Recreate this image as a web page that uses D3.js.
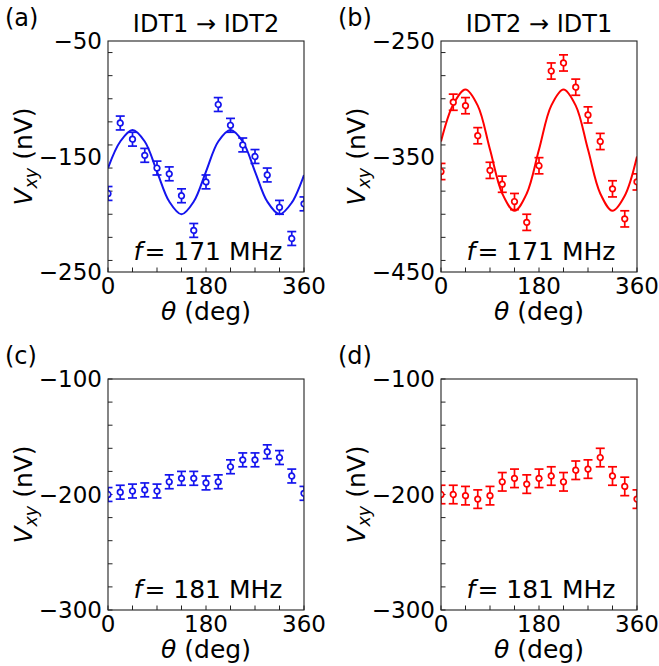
<!DOCTYPE html>
<html>
<head>
<meta charset="utf-8">
<script src="https://cdn.jsdelivr.net/npm/d3@7"></script>
<style>
  body { margin: 0; background: #fff; }
  svg { display: block; }
  text { font-family: "DejaVu Sans", sans-serif; fill: #000; }
</style>
</head>
<body>
<svg id="fig" width="659" height="666"></svg>
<script>
// Rotation angle of the sample (deg)
const theta = [0, 22.5, 45, 67.5, 90, 112.5, 135, 157.5, 180, 202.5, 225, 247.5, 270, 292.5, 315, 337.5, 360];

// (a) IDT1 -> IDT2, f = 171 MHz
const vxyA = [-182, -121, -135, -149, -160, -165, -184, -214, -172, -105, -123, -140, -150, -166, -194, -221, -191];
const errA = [6, 6, 6, 6, 6, 6, 6, 6, 6, 6, 6, 6, 6, 6, 6, 6, 6];
const fitA = [-160, -137, -127, -137, -163, -189, -200, -189, -163, -137, -127, -137, -163, -189, -200, -190, -166];

// (b) IDT2 -> IDT1, f = 171 MHz
const vxyB = [-363, -303, -306, -332, -362, -374, -389, -407, -358, -276, -269, -290, -314, -337, -378, -404, -372];
const errB = [7, 7, 7, 7, 7, 7, 7, 7, 7, 7, 7, 7, 7, 7, 7, 7, 7];
const fitB = [-337, -305, -292, -306, -344, -382, -397, -382, -344, -306, -292, -306, -344, -382, -397, -384, -350];

// (c) IDT1 -> IDT2, f = 181 MHz
const vxyC = [-200, -198, -197, -196, -197, -189, -186, -186, -190, -189, -176, -170, -170, -163, -168, -184, -199];
const errC = [6, 6, 6, 6, 6, 6, 6, 6, 6, 6, 6, 6, 6, 6, 6, 6, 6];

// (d) IDT2 -> IDT1, f = 181 MHz
const vxyD = [-200, -200, -201, -204, -201, -189, -186, -191, -186, -184, -189, -179, -178, -168, -184, -193, -204];
const errD = [8, 8, 8, 8, 8, 8, 8, 8, 8, 8, 8, 8, 8, 8, 8, 8, 8];

// Axis settings
const xTickLabels = [0, 180, 360];
const xMinorStep = 45;
const yStep = 20;
const yDomainTop = [-50, -250];
const yLabelsA = [-50, -150, -250];
const yDomainB = [-250, -450];
const yLabelsB = [-250, -350, -450];
const yDomainBottom = [-100, -300];
const yLabelsBottom = [-100, -200, -300];

const panels = [
  { tag: "(a)", title: "IDT1 \u2192 IDT2", freq: "171", color: "#1414ee",
    v: vxyA, e: errA, fit: fitA, domain: yDomainTop, labels: yLabelsA, left: 108, top: 41 },
  { tag: "(b)", title: "IDT2 \u2192 IDT1", freq: "171", color: "#ff0000",
    v: vxyB, e: errB, fit: fitB, domain: yDomainB, labels: yLabelsB, left: 441, top: 41 },
  { tag: "(c)", title: null, freq: "181", color: "#1414ee",
    v: vxyC, e: errC, fit: null, domain: yDomainBottom, labels: yLabelsBottom, left: 108, top: 379 },
  { tag: "(d)", title: null, freq: "181", color: "#ff0000",
    v: vxyD, e: errD, fit: null, domain: yDomainBottom, labels: yLabelsBottom, left: 441, top: 379 }
];

const W = 196, H = 231;
const FS_TICK = 23, FS_LABEL = 25, FS_NOTE = 25, FS_TITLE = 24, FS_TAG = 24;
const svg = d3.select("#fig");
const defs = svg.append("defs");

panels.forEach((p, i) => {
  const g = svg.append("g").attr("transform", `translate(${p.left},${p.top})`);
  const x = d3.scaleLinear().domain([0, 360]).range([0, W]);
  const y = d3.scaleLinear().domain(p.domain).range([0, H]);

  const clipId = "clip" + i;
  defs.append("clipPath").attr("id", clipId)
    .append("rect").attr("x", 0).attr("y", 0).attr("width", W).attr("height", H);

  // inward ticks on bottom and left
  const xt = d3.range(0, 361, xMinorStep);
  g.append("g").selectAll("line").data(xt).join("line")
    .attr("x1", d => x(d)).attr("x2", d => x(d))
    .attr("y1", H).attr("y2", H - 4.5)
    .attr("stroke", "#222").attr("stroke-width", 1);
  const lo = Math.min(...p.domain), hi = Math.max(...p.domain);
  const yt = d3.range(Math.ceil(lo / yStep) * yStep, hi + 0.001, yStep);
  g.append("g").selectAll("line").data(yt).join("line")
    .attr("x1", 0).attr("x2", 4.5)
    .attr("y1", d => y(d)).attr("y2", d => y(d))
    .attr("stroke", "#222").attr("stroke-width", 1);

  const plot = g.append("g").attr("clip-path", `url(#${clipId})`);

  if (p.fit) {
    const line = d3.line()
      .x((d, k) => x(theta[k]))
      .y(d => y(d))
      .curve(d3.curveCatmullRom.alpha(0.5));
    plot.append("path").attr("d", line(p.fit))
      .attr("fill", "none").attr("stroke", p.color).attr("stroke-width", 2);
  }

  const pts = plot.append("g").selectAll("g").data(p.v).join("g")
    .attr("transform", (d, k) => `translate(${x(theta[k])},0)`);
  pts.append("line")
    .attr("y1", (d, k) => y(d + p.e[k])).attr("y2", (d, k) => y(d - p.e[k]))
    .attr("stroke", p.color).attr("stroke-width", 1.7);
  pts.append("line").attr("x1", -4.5).attr("x2", 4.5)
    .attr("y1", (d, k) => y(d + p.e[k])).attr("y2", (d, k) => y(d + p.e[k]))
    .attr("stroke", p.color).attr("stroke-width", 1.7);
  pts.append("line").attr("x1", -4.5).attr("x2", 4.5)
    .attr("y1", (d, k) => y(d - p.e[k])).attr("y2", (d, k) => y(d - p.e[k]))
    .attr("stroke", p.color).attr("stroke-width", 1.7);
  pts.append("circle").attr("cy", d => y(d)).attr("r", 2.8)
    .attr("fill", "#fff").attr("stroke", p.color).attr("stroke-width", 1.7);

  // frame
  g.append("rect").attr("width", W).attr("height", H)
    .attr("fill", "none").attr("stroke", "#222").attr("stroke-width", 1.1);

  // tick labels
  g.append("g").selectAll("text").data(xTickLabels).join("text")
    .attr("x", d => x(d)).attr("y", H + 22)
    .attr("text-anchor", "middle").attr("font-size", FS_TICK)
    .text(d => d);
  g.append("g").selectAll("text").data(p.labels).join("text")
    .attr("x", -6).attr("y", d => y(d)).attr("dy", "0.36em")
    .attr("text-anchor", "end").attr("font-size", FS_TICK)
    .text(d => "\u2212" + Math.abs(d));

  // axis labels
  const xl = g.append("text").attr("x", W / 2).attr("y", H + 48)
    .attr("text-anchor", "middle").attr("font-size", FS_LABEL);
  xl.append("tspan").attr("font-style", "italic").text("\u03b8");
  xl.append("tspan").text(" (deg)");

  const yl = g.append("text")
    .attr("transform", `translate(-76,${H / 2}) rotate(-90)`)
    .attr("text-anchor", "middle").attr("font-size", FS_LABEL);
  yl.append("tspan").attr("font-style", "italic").text("V");
  yl.append("tspan").attr("font-style", "italic").attr("font-size", FS_LABEL * 0.7)
    .attr("dy", 5).text("xy");
  yl.append("tspan").attr("dy", -5).text(" (nV)");

  // annotation
  const an = g.append("text").attr("x", W / 2 + 2).attr("y", H - 12)
    .attr("text-anchor", "middle").attr("font-size", FS_NOTE);
  an.append("tspan").attr("font-style", "italic").text("f");
  an.append("tspan").attr("dx", 2).text("= " + p.freq + " MHz");

  // title and panel tag
  if (p.title) {
    g.append("text").attr("x", W / 2).attr("y", -9)
      .attr("text-anchor", "middle").attr("font-size", FS_TITLE).text(p.title);
  }
  svg.append("text").attr("x", p.left - 103).attr("y", p.top - 15)
    .attr("font-size", FS_TAG).text(p.tag);
});
</script>
</body>
</html>
